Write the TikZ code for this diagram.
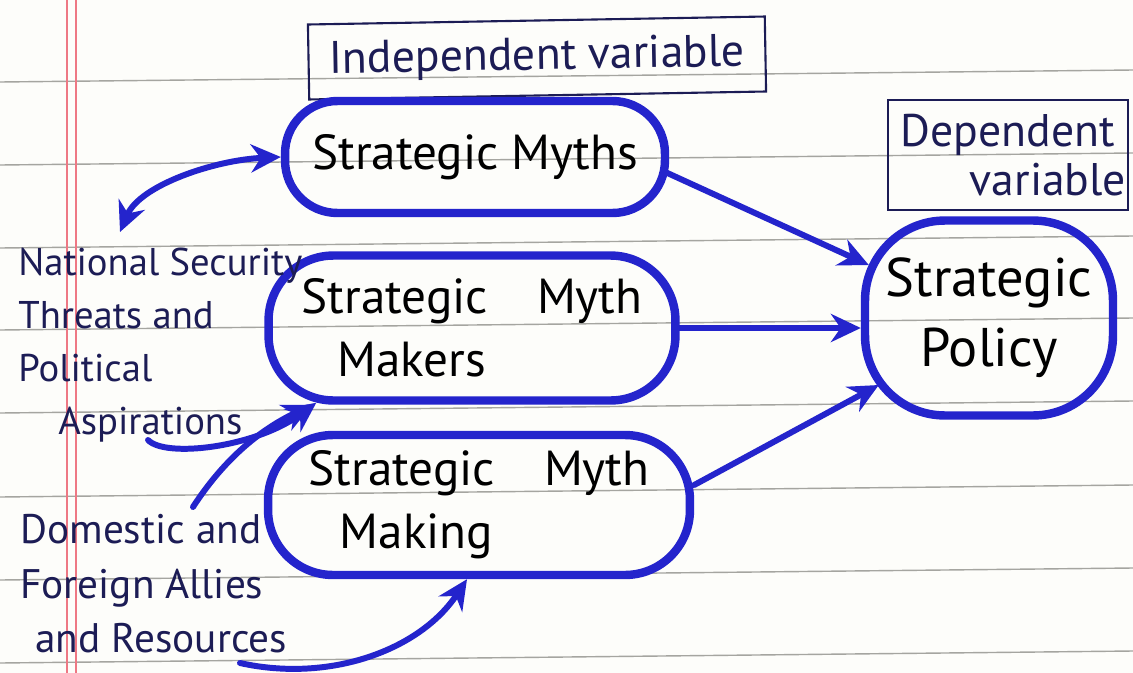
\documentclass[tikz,border=0pt]{standalone}
\usepackage{fontspec}
\setmainfont{PT Sans}
\usetikzlibrary{arrows.meta,calc}
\definecolor{ink}{RGB}{36,36,204}
\definecolor{navy}{RGB}{28,28,85}
\definecolor{ruleclr}{RGB}{165,165,160}
\definecolor{marginclr}{RGB}{238,120,132}
\definecolor{paper}{RGB}{253,253,250}
\begin{document}
\begin{tikzpicture}[x=0.02cm,y=-0.02cm]
\tikzset{
  blob/.style={draw=ink, line width=4.8pt, align=center, text=black,
    font=\fontsize{28}{36}\selectfont, inner sep=0pt},
  varbox/.style={draw=navy, line width=1.2pt, text=navy, align=center,
    font=\fontsize{26}{30}\selectfont, inner sep=0pt},
  lbl/.style={text=navy, align=left, anchor=north west, inner sep=0pt},
  arr/.style={draw=ink, line width=3.4pt, line cap=round, -{Stealth[length=17pt,width=16pt]}},
  dblarr/.style={draw=ink, line width=3.4pt, {Stealth[length=17pt,width=16pt]}-{Stealth[length=17pt,width=16pt]}},
  ruleline/.style={draw=ruleclr, line width=0.8pt},
  marginline/.style={draw=marginclr, line width=0.8pt}
}
\useasboundingbox (0,0) rectangle (1133,673);
\fill[paper] (0,0) rectangle (1133,673);
% ruled paper
\foreach \yy in {82,165,248,330,413,497,580,663}
  \draw[ruleline] (0,\yy) -- (1133,\yy-12);
\draw[marginline] (67,0) -- (67,673);
\draw[marginline] (76,0) -- (76,673);

% variable boxes
\node[varbox, minimum width=9.14cm, minimum height=1.5cm, rotate=1] (iv) at (537,58) {Independent variable};
\node[varbox, minimum width=4.8cm, minimum height=2.2cm, font=\fontsize{26}{28}\selectfont] (dv) at (1008,155) {Dependent\\\hspace*{1.6cm}variable};

% main nodes
\node[blob, minimum width=7.6cm, minimum height=2.24cm, rounded corners=1.05cm] (sm) at (475,157) {Strategic Myths};
\node[blob, minimum width=8.14cm, minimum height=2.9cm, rounded corners=1.3cm] (smm) at (472,328) {Strategic\quad Myth\\Makers\hspace*{2.4cm}};
\node[blob, minimum width=8.44cm, minimum height=2.8cm, rounded corners=1.3cm] (smk) at (479,505) {Strategic\quad Myth\\Making\hspace*{2.5cm}};
\node[blob, minimum width=4.96cm, minimum height=3.9cm, rounded corners=1.6cm, font=\fontsize{31}{40}\selectfont] (sp) at (989,318) {Strategic\\Policy};

% left labels
\node[lbl, font=\fontsize{22}{30}\selectfont] (ns) at (18,248) {National Security\\Threats and\\Political\\\hspace*{0.8cm}Aspirations};
\node[lbl, font=\fontsize{23.5}{31}\selectfont] (da) at (20,514) {Domestic and\\Foreign Allies\\\hspace*{0.3cm}and Resources};

% connectors
\coordinate (nstop) at (120,232);
\coordinate (asp) at (148,440);
\coordinate (dom) at (193,507);
\coordinate (res) at (240,663);

\draw[arr] ($(sm.east)+(-4,15)$) -- ($(sp.west)+(8,-53)$);
\draw[arr] (smm.east) -- (sp.west |- smm.east);
\draw[arr] ($(smk.east)+(0,-20)$) -- ($(sp.west)+(18,67)$);
\draw[dblarr] (nstop) .. controls (140,185) and (215,160) .. (sm.west);
\draw[arr] (asp) .. controls (165,458) and (255,448) .. ($(smm.south west)+(52,-2)$);
\draw[arr] (dom) .. controls (230,450) and (270,425) .. ($(smm.south west)+(48,0)$);
\draw[arr] (res) .. controls (330,683) and (420,650) .. ($(smk.south)+(-12,0)$);
\end{tikzpicture}
\end{document}
